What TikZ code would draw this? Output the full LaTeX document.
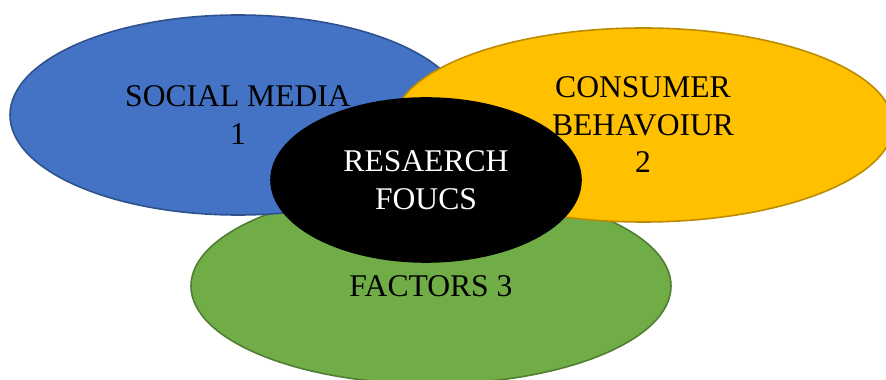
\documentclass[tikz,border=0pt]{standalone}
\usepackage{fontspec}
\setmainfont{Liberation Serif}
\usetikzlibrary{shapes.geometric}
\definecolor{cblue}{HTML}{4472C4}
\definecolor{cblueb}{HTML}{2F528F}
\definecolor{corange}{HTML}{FFC000}
\definecolor{corangeb}{HTML}{BC8C00}
\definecolor{cgreen}{HTML}{70AD47}
\definecolor{cgreenb}{HTML}{507E32}
\begin{document}
\begin{tikzpicture}[x=1pt,y=1pt,
  blob/.style={ellipse, line width=1.6pt, inner sep=0pt, align=center,
    font=\fontsize{31.6}{37.5}\selectfont}]
\useasboundingbox (0,0) rectangle (886,380);
\node[blob, fill=cgreen, draw=cgreenb, minimum width=480pt, minimum height=196pt] (green) at (431,94) {FACTORS 3};
\node[blob, fill=cblue, draw=cblueb, minimum width=456pt, minimum height=200pt] (blue) at (238,265) {SOCIAL MEDIA\\1};
\node[blob, fill=corange, draw=corangeb, minimum width=500pt, minimum height=194pt] (orange) at (643,255) {CONSUMER\\BEHAVOIUR\\2};
\node[blob, fill=black, draw=black, text=white, minimum width=310pt, minimum height=164pt] (focus) at (426,200) {RESAERCH\\FOUCS};
\end{tikzpicture}
\end{document}
